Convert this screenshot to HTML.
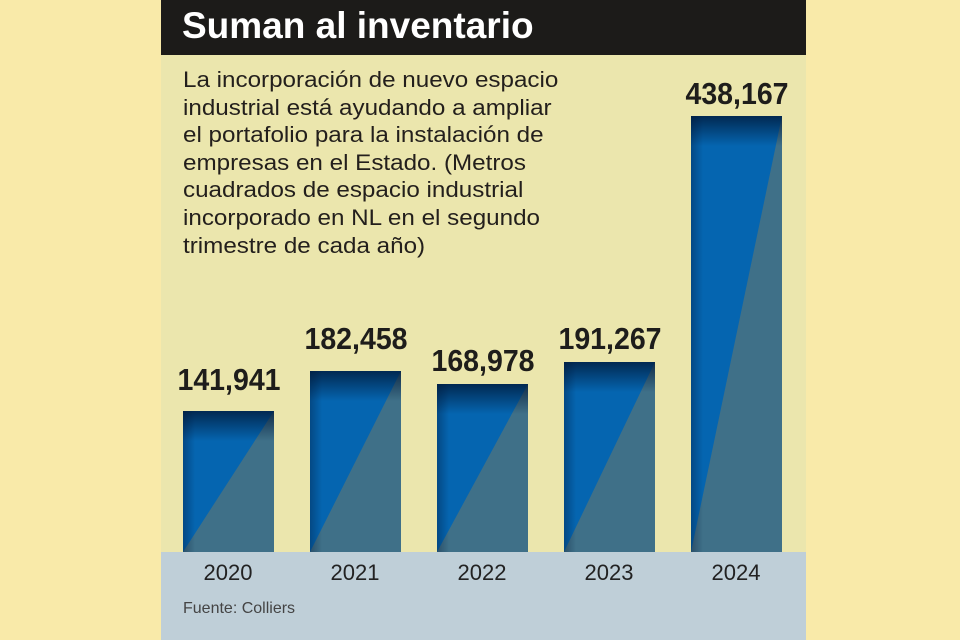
<!DOCTYPE html>
<html><head><style>
body{margin:0;width:960px;height:640px;background:#f9eaa9;position:relative;overflow:hidden;font-family:"Liberation Sans",sans-serif}
#panel{position:absolute;left:161px;top:0;width:645px;height:640px;background:#ebe6ad}
#hdr{position:absolute;left:0;top:0;width:645px;height:55px;background:#1c1b19}
#title{position:absolute;left:21px;top:5px;font-size:37px;font-weight:bold;color:#fff;white-space:nowrap}
#desc{position:absolute;left:22px;top:66px;font-size:22px;line-height:27.6px;color:#231f1c;transform:scaleX(1.1);transform-origin:left top;white-space:nowrap}
#band{position:absolute;left:0;top:552px;width:645px;height:88px;background:#bfcfd8}
.bar{position:absolute;width:91px;bottom:88px;background:#0565b0;overflow:hidden}
.bar:before{content:"";position:absolute;inset:0;background:#3f7088;clip-path:polygon(100% 0,100% 100%,0 100%);z-index:1}
.bar:after{content:"";position:absolute;inset:0;z-index:2;background:linear-gradient(to bottom,rgba(0,20,50,.75),rgba(0,20,50,0) 30px),linear-gradient(to right,rgba(0,20,50,.35),rgba(0,20,50,0) 12px)}
.val{position:absolute;width:160px;text-align:center;font-size:31px;font-weight:bold;color:#1e1d1b;transform:scaleX(0.92)}
.yr{position:absolute;width:120px;text-align:center;top:560px;font-size:22px;color:#222}
#src{position:absolute;left:22px;top:600px;font-size:16px;color:#444}
</style></head><body>
<div id="panel">
<div id="hdr"><div id="title">Suman al inventario</div></div>
<div id="desc">La incorporación de nuevo espacio<br>industrial está ayudando a ampliar<br>el portafolio para la instalación de<br>empresas en el Estado. (Metros<br>cuadrados de espacio industrial<br>incorporado en NL en el segundo<br>trimestre de cada año)</div>
<div id="band"></div>
<div class="bar" style="left:22px;top:411px"></div>
<div class="bar" style="left:149px;top:371px"></div>
<div class="bar" style="left:276px;top:384px"></div>
<div class="bar" style="left:403px;top:362px"></div>
<div class="bar" style="left:530px;top:116px"></div>
<div class="val" style="left:-12px;top:362px">141,941</div>
<div class="val" style="left:115px;top:321px">182,458</div>
<div class="val" style="left:242px;top:343px">168,978</div>
<div class="val" style="left:369px;top:321px">191,267</div>
<div class="val" style="left:496px;top:76px">438,167</div>
<div class="yr" style="left:7px">2020</div>
<div class="yr" style="left:134px">2021</div>
<div class="yr" style="left:261px">2022</div>
<div class="yr" style="left:388px">2023</div>
<div class="yr" style="left:515px">2024</div>
<div id="src">Fuente: Colliers</div>
</div>
</body></html>
